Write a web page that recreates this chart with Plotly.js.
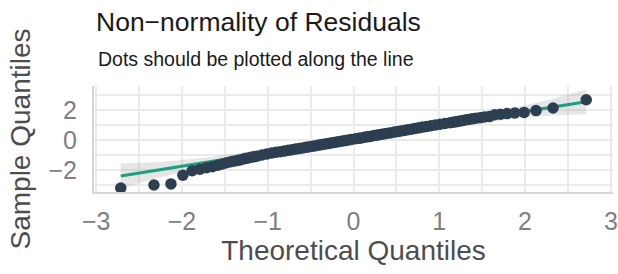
<!DOCTYPE html>
<html>
<head>
<meta charset="utf-8">
<script src="https://cdn.plot.ly/plotly-3.0.1.min.js"></script>
<style>
  html, body { margin: 0; padding: 0; background: #ffffff; }
  #chart { width: 618px; height: 274px; }
</style>
</head>
<body>
<div id="chart"></div>
<script>
// Theoretical quantiles (x) and sample quantiles (y) of the residual dots
const theoretical = [
  -2.713, -2.326, -2.128, -1.989, -1.881, -1.791, -1.713, -1.645, -1.583, -1.527,
  -1.476, -1.428, -1.383, -1.341, -1.301, -1.263, -1.227, -1.192, -1.159, -1.126,
  -1.066, -1.009, -0.954, -0.903, -0.854, -0.806, -0.761, -0.717, -0.674, -0.633,
  -0.593, -0.553, -0.515, -0.477, -0.440, -0.403, -0.367, -0.332, -0.297, -0.262,
  -0.228, -0.194, -0.160, -0.126, -0.092, -0.059, -0.025,
  0.025, 0.059, 0.092, 0.126, 0.160, 0.194, 0.228, 0.262, 0.297, 0.332,
  0.367, 0.403, 0.440, 0.477, 0.515, 0.553, 0.593, 0.633, 0.674, 0.717,
  0.761, 0.806, 0.854, 0.903, 0.954, 1.009, 1.066,
  1.126, 1.159, 1.192, 1.227, 1.263, 1.301, 1.341, 1.383, 1.428, 1.476,
  1.527, 1.583, 1.645, 1.713, 1.791, 1.881, 1.989, 2.128, 2.326, 2.713
];
const sample = [
  -3.20, -3.00, -2.93, -2.35, -2.05, -1.95, -1.85, -1.78, -1.68, -1.60,
  -1.52, -1.45, -1.40, -1.36, -1.30, -1.24, -1.20, -1.15, -1.12, -1.08,
  -1.00, -0.93, -0.87, -0.82, -0.78, -0.74, -0.69, -0.65, -0.61, -0.57,
  -0.53, -0.49, -0.45, -0.42, -0.38, -0.34, -0.31, -0.27, -0.24, -0.20,
  -0.17, -0.13, -0.10, -0.07, -0.03, 0.00, 0.03,
  0.08, 0.11, 0.14, 0.18, 0.21, 0.24, 0.28, 0.31, 0.35, 0.38,
  0.42, 0.45, 0.49, 0.53, 0.56, 0.60, 0.64, 0.68, 0.72, 0.77,
  0.81, 0.86, 0.90, 0.95, 1.00, 1.05, 1.10,
  1.15, 1.18, 1.21, 1.25, 1.29, 1.33, 1.37, 1.41, 1.45, 1.49,
  1.53, 1.56, 1.68, 1.72, 1.76, 1.80, 1.84, 1.96, 2.13, 2.68
];

// Reference line (end points)
const lineX = [-2.713, 2.713];
const lineY = [-2.40, 2.55];

// Confidence band around the reference line
const bandX = [-2.713, -2.5, -2.326, -2.15, -2.0, -1.75, -1.5, -1.0, -0.5, 0, 0.5, 1.0, 1.5, 1.75, 2.0, 2.15, 2.326, 2.5, 2.713];
const bandLower = [-3.234, -2.865, -2.599, -2.35, -2.156, -1.856, -1.577, -1.059, -0.574, -0.109, 0.338, 0.765, 1.159, 1.336, 1.492, 1.572, 1.643, 1.695, 1.714];
const bandUpper = [-1.564, -1.545, -1.493, -1.422, -1.342, -1.186, -1.009, -0.615, -0.188, 0.259, 0.724, 1.209, 1.727, 2.006, 2.306, 2.5, 2.749, 3.015, 3.384];

const xTicks = [-3, -2, -1, 0, 1, 2, 3];
const yTicks = [-2, 0, 2];

const FONT = 'Liberation Sans, Arial, Helvetica, sans-serif';

const traces = [
  {
    x: bandX.concat(bandX.slice().reverse()),
    y: bandUpper.concat(bandLower.slice().reverse()),
    type: 'scatter', mode: 'lines', fill: 'toself',
    fillcolor: 'rgba(150,150,150,0.24)',
    line: { width: 0, color: 'rgba(0,0,0,0)' },
    hoverinfo: 'skip', showlegend: false
  },
  {
    x: lineX, y: lineY, type: 'scatter', mode: 'lines',
    line: { color: '#1fa07c', width: 3.2 },
    showlegend: false
  },
  {
    x: theoretical, y: sample, type: 'scatter', mode: 'markers',
    marker: { color: '#2c3e50', size: 11.5, line: { width: 0 } },
    showlegend: false
  }
];

const layout = {
  width: 618, height: 274,
  margin: { l: 94, r: 5, t: 86, b: 82, pad: 0 },
  paper_bgcolor: '#ffffff', plot_bgcolor: '#ffffff',
  font: { family: FONT, color: '#4d4d4d' },
  title: {
    text: 'Non\u2212normality of Residuals',
    font: { family: FONT, size: 26.5, color: '#1a1a1a' },
    xref: 'container', x: 96 / 618, xanchor: 'left',
    yref: 'container', y: 1 - 22 / 274, yanchor: 'middle'
  },
  annotations: [{
    text: 'Dots should be plotted along the line',
    xref: 'paper', yref: 'paper', x: 0.003, y: 1.255,
    xanchor: 'left', yanchor: 'middle', showarrow: false,
    font: { family: FONT, size: 19.5, color: '#1a1a1a' }
  }],
  xaxis: {
    range: [-3.025, 3.025],
    tickvals: xTicks, ticktext: xTicks.map(v => v < 0 ? '\u2212' + Math.abs(v) : String(v)),
    ticks: '', ticklabelstandoff: 6,
    tickfont: { family: FONT, size: 25, color: '#808080' },
    showgrid: true, gridcolor: '#ebebeb', gridwidth: 2,
    minor: { dtick: 0.5, tick0: 0, showgrid: true, gridcolor: '#ebebeb', gridwidth: 2, ticks: '' },
    zeroline: false,
    showline: true, linecolor: '#d6d6d6', linewidth: 2,
    title: { text: 'Theoretical Quantiles', font: { family: FONT, size: 28, color: '#4d4d4d' }, standoff: 6 }
  },
  yaxis: {
    range: [-3.47, 3.6],
    tickvals: yTicks, ticktext: yTicks.map(v => v < 0 ? '\u2212' + Math.abs(v) : String(v)),
    ticks: '', ticklabelstandoff: 10,
    tickfont: { family: FONT, size: 25, color: '#808080' },
    showgrid: true, gridcolor: '#ebebeb', gridwidth: 2,
    minor: { dtick: 1, tick0: 0, showgrid: true, gridcolor: '#ebebeb', gridwidth: 2, ticks: '' },
    zeroline: false,
    showline: true, linecolor: '#d6d6d6', linewidth: 2,
    title: { text: 'Sample Quantiles', font: { family: FONT, size: 28, color: '#4d4d4d' }, standoff: 10 }
  }
};

Plotly.newPlot('chart', traces, layout, { staticPlot: true, displayModeBar: false });
</script>
</body>
</html>
